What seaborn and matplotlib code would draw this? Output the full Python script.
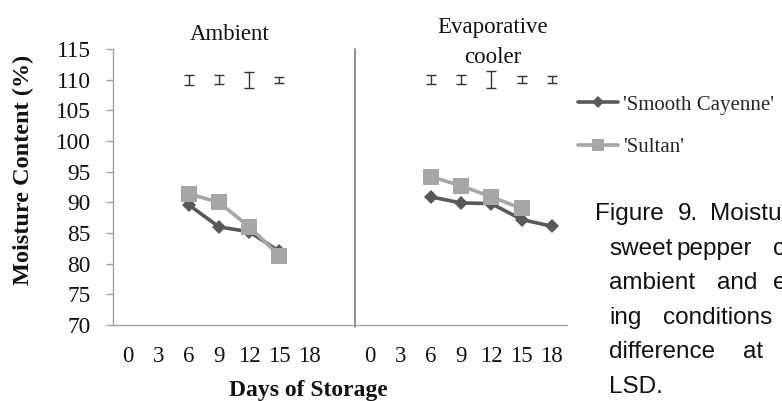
import numpy as np
import pandas as pd
import matplotlib
matplotlib.use("Agg")
import matplotlib.pyplot as plt
import seaborn as sns

# ---------------- data ----------------
days = [0, 3, 6, 9, 12, 15, 18]
cultivars = ["'Smooth Cayenne'", "'Sultan'"]
panel_titles = ["Ambient", "Evaporative", "cooler"]

amb_days = [6, 9, 12, 15]
amb_cayenne = [89.6, 86.0, 85.2, 82.0]
amb_sultan = [91.4, 90.0, 86.0, 81.3]

evap_cay_days = [6, 9, 12, 15, 18]
evap_cayenne = [90.9, 89.9, 89.8, 87.2, 86.1]
evap_sul_days = [6, 9, 12, 15]
evap_sultan = [94.2, 92.7, 90.9, 89.0]

lsd_level = 110
amb_lsd_days = [6, 9, 12, 15]
amb_lsd = [0.8, 0.7, 1.3, 0.5]
evap_lsd_days = [6, 9, 12, 15, 18]
evap_lsd = [0.7, 0.7, 1.35, 0.55, 0.55]

y_ticks = [70, 75, 80, 85, 90, 95, 100, 105, 110, 115]

caption_lines = [
    [("Figure", 595), ("9.", 678), ("Moistu", 710)],
    [("sweet", 609), ("pepper", 676), ("c", 773)],
    [("ambient", 609), ("and", 717), ("e", 773)],
    [("ing", 609), ("conditions", 663)],
    [("difference", 609), ("at", 743)],
    [("LSD.", 609)],
]

# ---------------- layout helpers ----------------
step = 3
n_slots = len(days)
offset = n_slots + 1  # blank slot between the two panels


def slot(d, panel):
    return d / step + panel * offset


rows = []
for d, v in zip(amb_days, amb_cayenne):
    rows.append(dict(slot=slot(d, 0), moisture=v, cultivar=cultivars[0], panel=0))
for d, v in zip(amb_days, amb_sultan):
    rows.append(dict(slot=slot(d, 0), moisture=v, cultivar=cultivars[1], panel=0))
for d, v in zip(evap_cay_days, evap_cayenne):
    rows.append(dict(slot=slot(d, 1), moisture=v, cultivar=cultivars[0], panel=1))
for d, v in zip(evap_sul_days, evap_sultan):
    rows.append(dict(slot=slot(d, 1), moisture=v, cultivar=cultivars[1], panel=1))
df = pd.DataFrame(rows)

sns.set_theme(style="white")
plt.rcParams["font.family"] = ["Liberation Serif", "DejaVu Serif"]

W, H = 782, 401
fig = plt.figure(figsize=(W / 100, H / 100), dpi=100)
fig.patch.set_facecolor("white")
ax = fig.add_axes([113 / W, (H - 325) / H, 454 / W, 276 / H])

colors = {cultivars[0]: "#595959", cultivars[1]: "#a6a6a6"}
sns.lineplot(
    data=df, x="slot", y="moisture", hue="cultivar", style="cultivar",
    units="panel", estimator=None, hue_order=cultivars, style_order=cultivars,
    palette=colors, markers={cultivars[0]: "D", cultivars[1]: "s"},
    dashes=False, linewidth=2.6, ax=ax, legend=True, sort=False,
)
for ln in ax.lines:
    m = ln.get_marker()
    ln.set_markeredgecolor(ln.get_color())
    ln.set_markeredgewidth(0)
    if m == "D":
        ln.set_markersize(7.3)
    elif m == "s":
        ln.set_markersize(11)

handles, labels = ax.get_legend_handles_labels()
ax.get_legend().remove()
for h in handles:
    h.set_markeredgewidth(0)
    h.set_linewidth(2.6)
    if h.get_marker() == "D":
        h.set_markersize(6)
    else:
        h.set_markersize(9)

# LSD bars
ax.errorbar([slot(d, 0) for d in amb_lsd_days], [lsd_level] * len(amb_lsd),
            yerr=amb_lsd, fmt="none", ecolor="#333333", elinewidth=1.0,
            capsize=3.5, capthick=1.0)
ax.errorbar([slot(d, 1) for d in evap_lsd_days], [lsd_level] * len(evap_lsd),
            yerr=evap_lsd, fmt="none", ecolor="#333333", elinewidth=1.0,
            capsize=3.5, capthick=1.0)

# axes
ax.set_xlim(-0.5, 2 * offset - 1 - 0.5)
ax.set_ylim(70, 115)
ax.set_yticks(y_ticks)
ax.set_yticklabels([str(t) for t in y_ticks])
xt = [slot(d, 0) for d in days] + [slot(d, 1) for d in days]
ax.set_xticks(xt)
ax.set_xticklabels([str(d) for d in days] * 2)
ax.tick_params(axis="y", which="both", left=True, length=5, width=1,
               color="#a0a0a0", pad=11, labelsize=16.8, labelcolor="#111111")
ax.tick_params(axis="x", length=0, pad=15, labelsize=16.5, labelcolor="#111111")
ax.set_xlabel("")
ax.set_ylabel("")
for s in ["top", "right"]:
    ax.spines[s].set_visible(False)
for s in ["left", "bottom"]:
    ax.spines[s].set_color("#a0a0a0")
    ax.spines[s].set_linewidth(1.0)
ax.plot([offset - 0.5, offset - 0.5], [69.6, 115], color="#7a7a7a",
        linewidth=1.2, clip_on=False)
ax.grid(False)

# titles
fig.text(230 / W, 1 - 40 / H, panel_titles[0], ha="center", va="baseline",
         fontsize=16.5, color="#111111")
fig.text(493 / W, 1 - 33 / H, panel_titles[1], ha="center", va="baseline",
         fontsize=16.5, color="#111111")
fig.text(493 / W, 1 - 63 / H, panel_titles[2], ha="center", va="baseline",
         fontsize=16.5, color="#111111")

# axis labels
fig.text(23 / W, 1 - 170 / H, "Moisture Content (%)", rotation=90,
         ha="center", va="center", fontsize=17.5, fontweight="bold",
         color="#111111")
fig.text(308 / W, 1 - 396 / H, "Days of Storage", ha="center",
         va="baseline", fontsize=17, fontweight="bold", color="#111111")

# legend
fig.legend(handles, labels, loc="upper left",
           bbox_to_anchor=(578 / W, 1 - 95 / H), frameon=False,
           prop={"family": "Liberation Serif", "size": 15},
           handlelength=1.9, handletextpad=0.25, labelspacing=1.1,
           borderpad=0, borderaxespad=0)

# caption (clipped on the right like the reference)
base = 220
for i, line in enumerate(caption_lines):
    for word, x in line:
        fig.text(x / W, 1 - (base + i * 34.6) / H, word, ha="left",
                 va="baseline", fontsize=17.5, family="Liberation Sans",
                 color="#111111")

fig.savefig("out.png", dpi=100)
